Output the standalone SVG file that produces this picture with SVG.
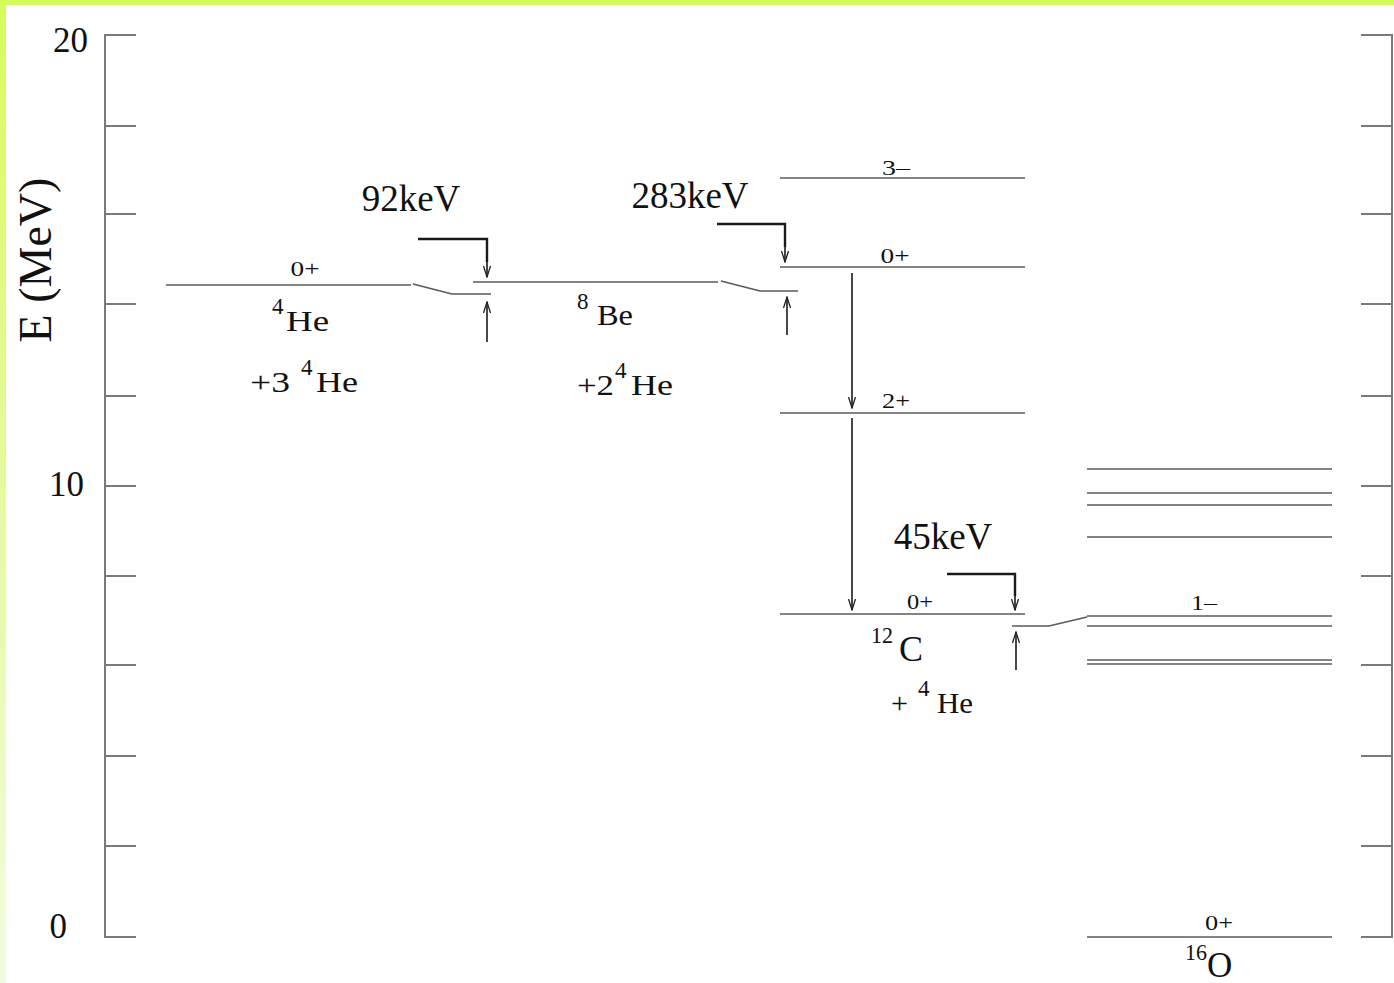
<svg xmlns="http://www.w3.org/2000/svg" width="1394" height="983" viewBox="0 0 1394 983">
<defs>
<linearGradient id="lg" x1="0" y1="0" x2="0" y2="1">
<stop offset="0" stop-color="#d6fc5a"/>
<stop offset="0.5" stop-color="#e4fb9e"/>
<stop offset="1" stop-color="#f2fbe0"/>
</linearGradient>
<marker id="ah" viewBox="0 0 12 12" refX="11" refY="6" markerWidth="12" markerHeight="12" markerUnits="userSpaceOnUse" orient="auto">
<polyline points="0,2.5 11,6 0,9.5" fill="none" stroke="#222" stroke-width="1.3"/>
</marker>
<style>
.ax{stroke:#7a7a7a;stroke-width:2;fill:none}
.lv{stroke:#5a5a5a;stroke-width:1.6;fill:none}
.br{stroke:#1a1a1a;stroke-width:2.4;fill:none}
.ar{stroke:#1a1a1a;stroke-width:1.6;fill:none;marker-end:url(#ah)}
text{font-family:"Liberation Serif","Times New Roman",serif;fill:#111}
.big{font-size:37px}
.mid{font-size:30px}
.sm{font-size:21px}
.sup{font-size:23px}
</style>
</defs>
<rect width="1394" height="983" fill="#ffffff"/>
<rect x="0" y="0" width="6" height="983" fill="url(#lg)"/>
<rect x="0" y="0" width="1394" height="5" fill="#d6fc5a"/>

<g id="axes">
<path class="ax" d="M136,35 H105 V937 H136"/>
<path class="ax" d="M105,126 H136 M105,214 H136 M105,304 H136 M105,396 H136 M105,486 H136 M105,576 H136 M105,665 H136 M105,756 H136 M105,846 H136"/>
<path class="ax" d="M1361,35 H1392 V937 H1361"/>
<path class="ax" d="M1361,126 H1392 M1361,214 H1392 M1361,304 H1392 M1361,396 H1392 M1361,486 H1392 M1361,576 H1392 M1361,665 H1392 M1361,756 H1392 M1361,846 H1392"/>
<text x="88" y="52" font-size="35" text-anchor="end">20</text>
<text x="84" y="496" font-size="35" text-anchor="end">10</text>
<text x="67" y="938" font-size="35" text-anchor="end">0</text>
<text x="51" y="260" font-size="46" text-anchor="middle" transform="rotate(-90 51 260)">E (MeV)</text>
</g>

<g id="he4">
<line class="lv" x1="166" y1="285" x2="411" y2="285"/>
<text class="sm" x="305" y="276" text-anchor="middle" textLength="29" lengthAdjust="spacingAndGlyphs">0+</text>
<text class="sup" x="272" y="314">4</text>
<text class="mid" x="286" y="331" textLength="43" lengthAdjust="spacingAndGlyphs">He</text>
<text class="mid" x="250" y="392" textLength="40" lengthAdjust="spacingAndGlyphs">+3</text>
<text class="sup" x="301" y="375">4</text>
<text class="mid" x="316" y="392" textLength="42" lengthAdjust="spacingAndGlyphs">He</text>
</g>

<g id="be8">
<line class="lv" x1="473" y1="282" x2="718" y2="282"/>
<text class="sup" x="577" y="309">8</text>
<text class="mid" x="597" y="325" textLength="36" lengthAdjust="spacingAndGlyphs">Be</text>
<text class="mid" x="577" y="395" textLength="37" lengthAdjust="spacingAndGlyphs">+2</text>
<text class="sup" x="615" y="378">4</text>
<text class="mid" x="631" y="395" textLength="42" lengthAdjust="spacingAndGlyphs">He</text>
</g>

<g id="c12">
<line class="lv" x1="780" y1="178" x2="1025" y2="178"/>
<text class="sm" x="896" y="175" text-anchor="middle" textLength="28" lengthAdjust="spacingAndGlyphs">3–</text>
<line class="lv" x1="780" y1="267" x2="1025" y2="267"/>
<text class="sm" x="895" y="263" text-anchor="middle" textLength="29" lengthAdjust="spacingAndGlyphs">0+</text>
<line class="lv" x1="780" y1="413" x2="1025" y2="413"/>
<text class="sm" x="896" y="408" text-anchor="middle" textLength="28" lengthAdjust="spacingAndGlyphs">2+</text>
<line class="lv" x1="780" y1="614" x2="1025" y2="614"/>
<text class="sm" x="920" y="609" text-anchor="middle" textLength="26" lengthAdjust="spacingAndGlyphs">0+</text>
<text class="sup" x="871" y="643" textLength="22" lengthAdjust="spacingAndGlyphs">12</text>
<text x="899" y="661" font-size="36">C</text>
<text class="mid" x="891" y="713" textLength="17" lengthAdjust="spacingAndGlyphs">+</text>
<text class="sup" x="918" y="696">4</text>
<text class="mid" x="937" y="713" textLength="36" lengthAdjust="spacingAndGlyphs">He</text>
</g>

<g id="o16">
<line class="lv" x1="1087" y1="469" x2="1332" y2="469"/>
<line class="lv" x1="1087" y1="493" x2="1332" y2="493"/>
<line class="lv" x1="1087" y1="505" x2="1332" y2="505"/>
<line class="lv" x1="1087" y1="537" x2="1332" y2="537"/>
<line class="lv" x1="1087" y1="616" x2="1332" y2="616"/>
<line class="lv" x1="1087" y1="626" x2="1332" y2="626"/>
<line class="lv" x1="1087" y1="660" x2="1332" y2="660"/>
<line class="lv" x1="1087" y1="664" x2="1332" y2="664"/>
<text class="sm" x="1204" y="610" text-anchor="middle" textLength="26" lengthAdjust="spacingAndGlyphs">1–</text>
<line class="lv" x1="1087" y1="937" x2="1332" y2="937"/>
<text class="sm" x="1219" y="930" text-anchor="middle" textLength="28" lengthAdjust="spacingAndGlyphs">0+</text>
<text class="sup" x="1185" y="960" textLength="22" lengthAdjust="spacingAndGlyphs">16</text>
<text x="1207" y="977" font-size="35">O</text>
</g>

<g id="connectors">
<polyline class="lv" points="413,284 452,294 491,294"/>
<polyline class="lv" points="721,281 760,291 798,291"/>
<polyline class="lv" points="1012,626 1049,626 1087,617"/>
<polyline class="br" points="418,239 487,239 487,262"/>
<line class="ar" x1="487" y1="255" x2="487" y2="277"/>
<line class="ar" x1="487" y1="342" x2="487" y2="302"/>
<polyline class="br" points="717,224 785,224 785,247"/>
<line class="ar" x1="785" y1="240" x2="785" y2="262"/>
<line class="ar" x1="787" y1="335" x2="787" y2="297"/>
<polyline class="br" points="947,574 1015,574 1015,596"/>
<line class="ar" x1="1015" y1="590" x2="1015" y2="610"/>
<line class="ar" x1="1016" y1="670" x2="1016" y2="632"/>
<line class="ar" x1="852" y1="273" x2="852" y2="408"/>
<line class="ar" x1="852" y1="418" x2="852" y2="610"/>
<text class="big" x="411" y="211" text-anchor="middle">92keV</text>
<text class="big" x="690" y="208" text-anchor="middle">283keV</text>
<text class="big" x="943" y="549" text-anchor="middle">45keV</text>
</g>
</svg>
